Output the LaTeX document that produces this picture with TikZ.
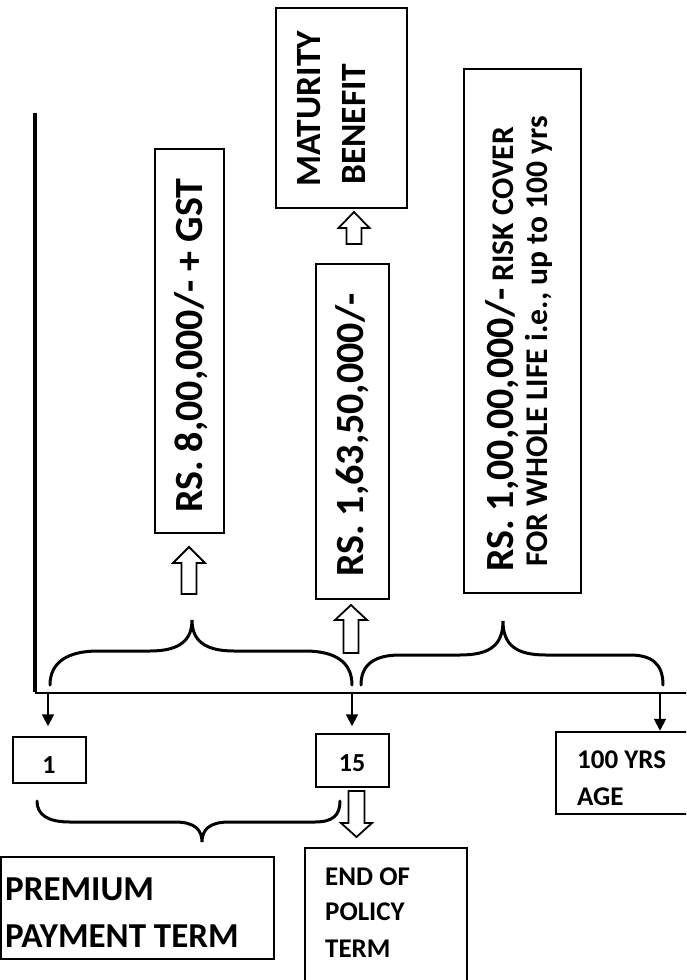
\documentclass[tikz,border=0pt]{standalone}
\usepackage{fontspec}
\setmainfont{Carlito}
\usetikzlibrary{arrows.meta}
\newcommand\HollowArrow[6]{% cx, tip, headbase, tail, headhalf, shafthalf
  \draw[hollow] (#1,#2) -- ({#1+#5},#3) -- ({#1+#6},#3) -- ({#1+#6},#4) -- ({#1-#6},#4) -- ({#1-#6},#3) -- ({#1-#5},#3) -- cycle;}
\begin{document}
\begin{tikzpicture}[x=1pt,y=-1pt,
  box/.style={draw, line width=1.5pt, inner sep=0pt},
  lbl/.style={inner sep=0pt},
  brace/.style={line width=3pt, line cap=round},
  tick/.style={line width=2pt, -{Triangle[width=12pt,length=12pt]}},
  hollow/.style={draw, line width=1.8pt, fill=white, line join=miter}]
\useasboundingbox (0,0) rectangle (686,980);
\clip (0,0) rectangle (686,980);

% axes
\coordinate (vtop) at (35,113);
\coordinate (origin) at (35,693);
\coordinate (xend) at (690,693);
\draw[line width=3.5pt] (vtop) -- ([yshift=1pt]origin);
\draw[line width=2pt] (origin) -- (xend);

% boxes
\node[box, minimum width=69pt, minimum height=384pt] (b8) at (189.5,341) {};
\node[box, minimum width=73pt, minimum height=335pt] (b163) at (352.5,431.5) {};
\node[box, minimum width=131pt, minimum height=200pt] (bmat) at (341.5,108) {};
\node[box, minimum width=117pt, minimum height=524pt] (brisk) at (522.5,331) {};
\node[box, minimum width=73pt, minimum height=46pt] (b1) at (49.5,760) {};
\node[box, minimum width=73pt, minimum height=53pt] (b15) at (352.5,760.5) {};
\node[box, minimum width=144pt, minimum height=82pt] (b100) at (628,773) {};
\node[box, minimum width=273pt, minimum height=102pt] (bprem) at (137.5,908) {};
\node[box, minimum width=162pt, minimum height=152pt] (bend) at (386,924) {};

% rotated texts
\node[lbl, rotate=90, anchor=base west, font=\bfseries\fontsize{40}{48}\selectfont] (t8) at (202,513) {RS. 8,00,000/- + GST};
\node[lbl, rotate=90, anchor=base west, font=\bfseries\fontsize{40}{48}\selectfont] (t163) at (363,577) {RS. 1,63,50,000/-};
\node[lbl, rotate=90, anchor=base west, font=\bfseries\fontsize{35.5}{42}\selectfont] (tmatA) at (320,187) {MATURITY};
\node[lbl, rotate=90, anchor=base west, font=\bfseries\fontsize{35.5}{42}\selectfont] (tmatB) at (365,185) {BENEFIT};
\node[lbl, rotate=90, anchor=base west, font=\bfseries\fontsize{40}{48}\selectfont] (triskA) at (513,572) {RS. 1,00,00,000/-{\fontsize{31.5}{36}\selectfont\ RISK COVER}};
\node[lbl, rotate=90, anchor=base west, font=\bfseries\fontsize{31.6}{36}\selectfont] (triskB) at (547,567) {FOR WHOLE LIFE i.e., up to 100 yrs};

% horizontal texts
\node[lbl, anchor=base, font=\bfseries\fontsize{26}{29}\selectfont] (t1) at (49,773) {1};
\node[lbl, anchor=base, font=\bfseries\fontsize{26}{29}\selectfont] (t15) at (352,771) {15};
\node[lbl, anchor=base west, font=\bfseries\fontsize{27}{31}\selectfont] (t100a) at (577,768) {100 YRS};
\node[lbl, anchor=base west, font=\bfseries\fontsize{27}{31}\selectfont] (t100b) at (577,805) {AGE};
\node[lbl, anchor=base west, font=\bfseries\fontsize{35}{38}\selectfont] (tpremA) at (5,900) {PREMIUM};
\node[lbl, anchor=base west, font=\bfseries\fontsize{35}{38}\selectfont] (tpremB) at (5,947) {PAYMENT TERM};
\node[lbl, anchor=base west, font=\bfseries\fontsize{27}{31}\selectfont] (tendA) at (325,885) {END OF};
\node[lbl, anchor=base west, font=\bfseries\fontsize{27}{31}\selectfont] (tendB) at (325,920) {POLICY};
\node[lbl, anchor=base west, font=\bfseries\fontsize{27}{31}\selectfont] (tendC) at (325,957) {TERM};

% tick arrows
\coordinate (a1) at (48,693);
\coordinate (a2) at (352,693);
\coordinate (a3) at (660,693);
\draw[tick, shorten >=10pt] (a1) -- (a1 |- b1.north);
\draw[tick, shorten >=7pt] (a2) -- (a2 |- b15.north);
\draw[tick, shorten >=0.5pt] (a3) -- (a3 |- b100.north);

% braces
\draw[brace] (50,685) .. controls (50,662) and (68,651) .. (98,651) -- (150,651) .. controls (180,651) and (192,640) .. (192,620) .. controls (192,640) and (204,651) .. (234,651) -- (305,651) .. controls (335,651) and (352,662) .. (352,685);
\draw[brace] (361,685) .. controls (361,664) and (375,655) .. (400,655) -- (460,655) .. controls (490,655) and (503,645) .. (503,621) .. controls (503,645) and (516,655) .. (546,655) -- (630,655) .. controls (652,655) and (663,664) .. (663,685);
\draw[brace] (37,801) .. controls (37,815) and (48,822) .. (70,822) -- (175,822) .. controls (195,822) and (202,830) .. (202,842) .. controls (202,830) and (209,822) .. (229,822) -- (315,822) .. controls (333,822) and (340,815) .. (340,801);

% hollow arrows
\HollowArrow{189}{547}{563}{594}{16}{7.5}
\HollowArrow{351}{605}{620}{653}{16}{7.5}
\HollowArrow{354}{212}{228}{244}{15.5}{7.5}
\HollowArrow{356.5}{837}{823}{791}{15.5}{8}
\end{tikzpicture}
\end{document}
